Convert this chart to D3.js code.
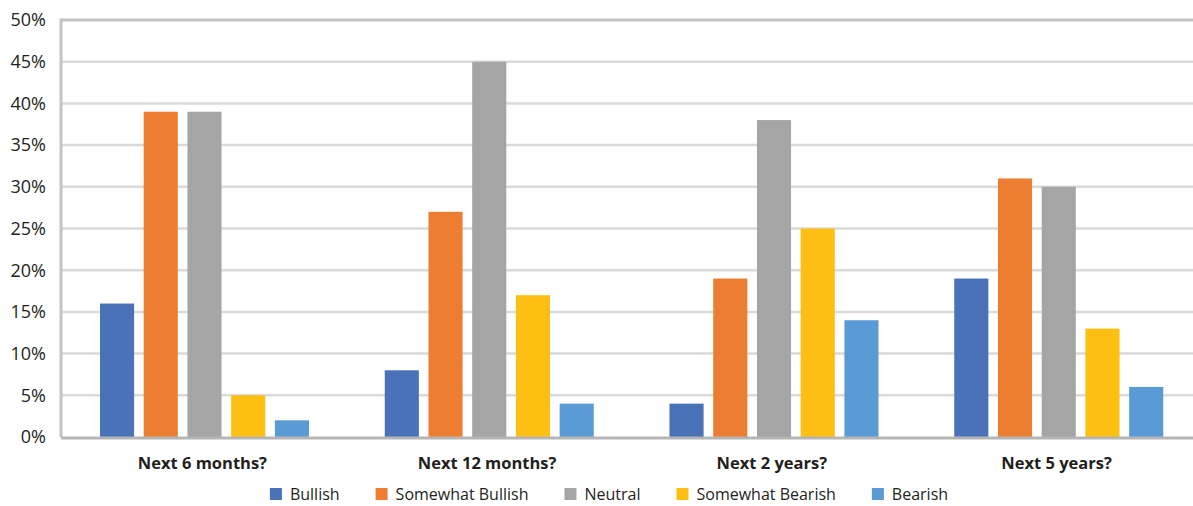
<html>
<head>
<meta charset="utf-8">
<title>Outlook</title>
<style>
  body { margin: 0; background: #fff; }
  text { font-family: "Open Sans", "Noto Sans", sans-serif; fill: #231f20; }
</style>
</head>
<body>
<script src="https://cdn.jsdelivr.net/npm/d3@7"></script>
<script>
var categories = ["Next 6 months?", "Next 12 months?", "Next 2 years?", "Next 5 years?"];
var seriesNames = ["Bullish", "Somewhat Bullish", "Neutral", "Somewhat Bearish", "Bearish"];
var bullish = [16, 8, 4, 19];
var somewhatBullish = [39, 27, 19, 31];
var neutral = [39, 45, 38, 30];
var somewhatBearish = [5, 17, 25, 13];
var bearish = [2, 4, 14, 6];
var yTicks = [0, 5, 10, 15, 20, 25, 30, 35, 40, 45, 50];
var colors = ["#4a72b8", "#ed7d31", "#a5a5a5", "#fdbf12", "#5b9bd5"];

var series = [bullish, somewhatBullish, neutral, somewhatBearish, bearish];

var width = 1193, height = 506;
var plotLeft = 61, plotRight = 1200, plotTop = 20, plotBottom = 437;

var svg = d3.select("body").append("svg")
    .attr("width", width)
    .attr("height", height);

var x0 = d3.scaleBand().domain(categories).range([plotLeft, plotRight]).paddingInner(0).paddingOuter(0);
var x1 = d3.scaleBand().domain(seriesNames).range([39, 248]).paddingInner(0.22).paddingOuter(0);
var y = d3.scaleLinear().domain([0, 50]).range([plotBottom, plotTop]);

// gridlines
svg.append("g").selectAll("line")
    .data(yTicks.filter(function (d) { return d > 0 && d < 50; }))
    .enter().append("line")
    .attr("x1", plotLeft).attr("x2", width)
    .attr("y1", function (d) { return y(d); })
    .attr("y2", function (d) { return y(d); })
    .attr("stroke", "#dadada")
    .attr("stroke-width", 2.5);

// top border
svg.append("line")
    .attr("x1", plotLeft).attr("x2", width)
    .attr("y1", y(50)).attr("y2", y(50))
    .attr("stroke", "#c4c4c4").attr("stroke-width", 3);

// bars
var groups = svg.append("g").selectAll("g")
    .data(categories)
    .enter().append("g")
    .attr("transform", function (d) { return "translate(" + x0(d) + ",0)"; });

groups.selectAll("rect")
    .data(function (d, i) {
        return series.map(function (s, j) { return { name: seriesNames[j], value: s[i], color: colors[j] }; });
    })
    .enter().append("rect")
    .attr("x", function (d) { return x1(d.name); })
    .attr("width", x1.bandwidth())
    .attr("y", function (d) { return y(d.value); })
    .attr("height", function (d) { return plotBottom - y(d.value); })
    .attr("fill", function (d) { return d.color; });

// left axis line
svg.append("line")
    .attr("x1", plotLeft).attr("x2", plotLeft)
    .attr("y1", plotTop - 1.5).attr("y2", plotBottom)
    .attr("stroke", "#c4c4c4").attr("stroke-width", 3);

// bottom axis line
svg.append("line")
    .attr("x1", plotLeft).attr("x2", width)
    .attr("y1", plotBottom + 1).attr("y2", plotBottom + 1)
    .attr("stroke", "#b5b5b5").attr("stroke-width", 3);

// y tick labels
svg.append("g").selectAll("text")
    .data(yTicks)
    .enter().append("text")
    .attr("x", 46)
    .attr("y", function (d) { return y(d); })
    .attr("dy", "0.35em")
    .attr("text-anchor", "end")
    .attr("font-size", 18)
    .text(function (d) { return d + "%"; });

// category labels
svg.append("g").selectAll("text")
    .data(categories)
    .enter().append("text")
    .attr("x", function (d) { return x0(d) + x0.bandwidth() / 2 - 1; })
    .attr("y", 463)
    .attr("dy", "0.35em")
    .attr("text-anchor", "middle")
    .attr("font-size", 16.5)
    .attr("font-weight", "bold")
    .text(function (d) { return d; });

// legend
var legend = svg.append("g");
var lx = 0;
seriesNames.forEach(function (name, i) {
    var g = legend.append("g").attr("transform", "translate(" + lx + ",0)");
    g.append("rect").attr("x", 0).attr("y", -6).attr("width", 12).attr("height", 12).attr("fill", colors[i]);
    var t = g.append("text").attr("x", 20).attr("y", 0).attr("dy", "0.35em")
        .attr("font-size", 16).text(name);
    lx += 20 + t.node().getComputedTextLength() + 36;
});
var lw = lx - 36;
legend.attr("transform", "translate(" + (609 - lw / 2) + ",494)");
</script>
</body>
</html>
